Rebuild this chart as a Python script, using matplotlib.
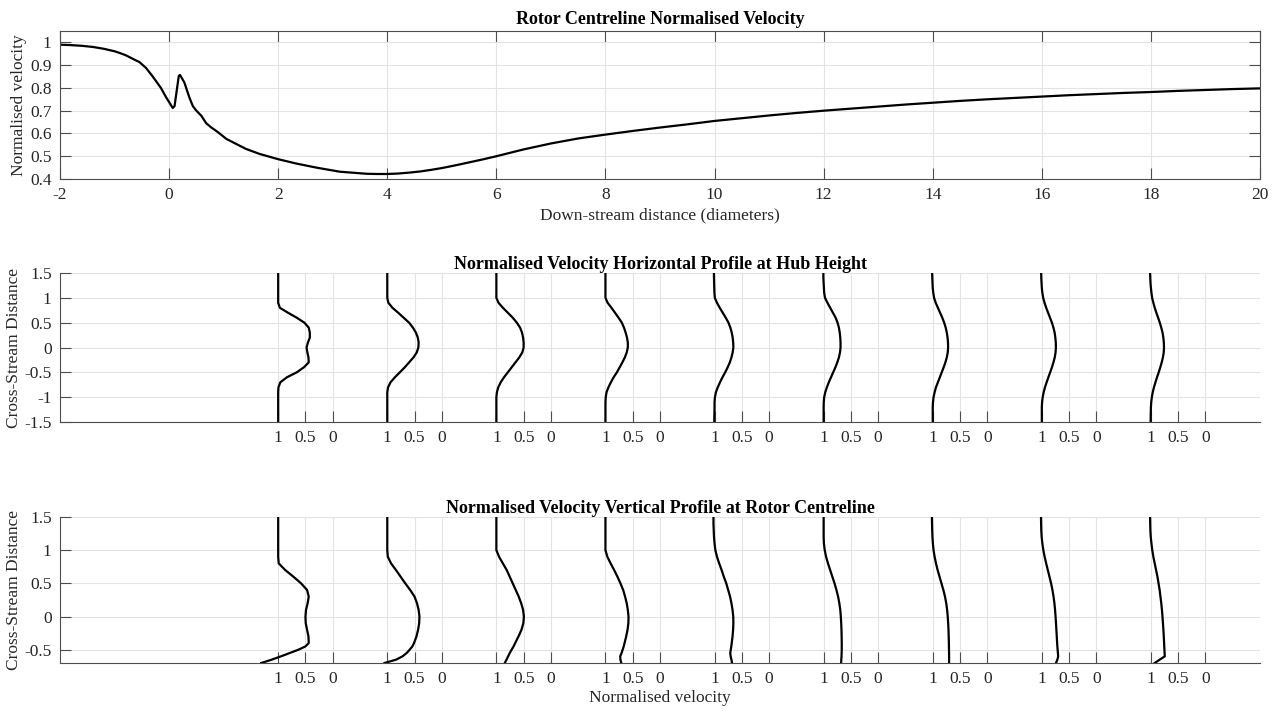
import matplotlib
matplotlib.use("Agg")
import matplotlib.pyplot as plt
import numpy as np

plt.rcParams['font.family'] = ['Liberation Serif', 'DejaVu Serif']
plt.rcParams['axes.unicode_minus'] = False

# ---------------- data ----------------
# Rotor centreline normalised velocity
cl_x = [-2.0, -1.8, -1.6, -1.4, -1.2, -1.0, -0.9, -0.8, -0.7, -0.6, -0.546, -0.42, -0.3, -0.15,
        -0.055, 0.067, 0.1, 0.178, 0.2, 0.28, 0.37, 0.436, 0.5, 0.59, 0.68, 0.77, 0.9, 1.05,
        1.23, 1.41, 1.66, 2.0, 2.33, 2.7, 3.13, 3.62, 3.8, 4.0, 4.2, 4.4, 4.6, 4.8, 5.0, 5.25,
        5.5, 5.75, 6.0, 6.25, 6.5, 6.75, 7.0, 7.5, 8.0, 8.5, 9.0, 9.5, 10.0, 10.5, 11.0, 11.5,
        12.0, 12.5, 13.0, 13.5, 14.0, 14.5, 15.0, 15.5, 16.0, 16.5, 17.0, 17.5, 18.0, 18.5,
        19.0, 19.5, 20.0]
cl_u = [0.99, 0.988, 0.985, 0.98, 0.972, 0.961, 0.953, 0.944, 0.932, 0.92, 0.914, 0.887, 0.85,
        0.80, 0.759, 0.712, 0.72, 0.853, 0.857, 0.824, 0.759, 0.72, 0.70, 0.678, 0.645, 0.627,
        0.605, 0.576, 0.554, 0.532, 0.51, 0.487, 0.468, 0.45, 0.432, 0.423, 0.422, 0.422, 0.424,
        0.428, 0.433, 0.44, 0.448, 0.46, 0.473, 0.486, 0.50, 0.515, 0.53, 0.543, 0.556, 0.578,
        0.595, 0.611, 0.626, 0.64, 0.655, 0.667, 0.679, 0.69, 0.70, 0.709, 0.718, 0.727, 0.735,
        0.743, 0.75, 0.756, 0.762, 0.768, 0.773, 0.778, 0.782, 0.787, 0.791, 0.795, 0.798]

# Profile stations (diameters downstream)
stations = [2, 4, 6, 8, 10, 12, 14, 16, 18]

# Horizontal profiles at hub height
h_y = [1.5, 1.4, 1.3, 1.2, 1.1, 1.0, 0.9, 0.8, 0.7, 0.6, 0.5, 0.4, 0.3, 0.2, 0.1, 0.0,
       -0.1, -0.2, -0.3, -0.4, -0.5, -0.6, -0.7, -0.8, -0.9, -1.0, -1.1, -1.2, -1.3, -1.4, -1.5]
h_u2 = [1.0, 1.0, 1.0, 1.0, 1.0, 1.0, 1.0, 0.97, 0.82, 0.66, 0.52, 0.44, 0.42, 0.42, 0.455, 0.48,
        0.465, 0.445, 0.44, 0.53, 0.66, 0.84, 0.96, 0.995, 1.0, 1.0, 1.0, 1.0, 1.0, 1.0, 1.0]
h_u4 = [1.0, 1.0, 1.0, 1.0, 1.0, 1.0, 0.98, 0.905, 0.80, 0.70, 0.60, 0.53, 0.475, 0.44, 0.425, 0.43,
        0.46, 0.52, 0.60, 0.68, 0.77, 0.86, 0.94, 0.985, 1.0, 1.0, 1.0, 1.0, 1.0, 1.0, 1.0]
h_u6 = [1.0, 1.0, 1.0, 1.0, 1.0, 1.0, 0.96, 0.88, 0.79, 0.70, 0.625, 0.565, 0.53, 0.51, 0.50, 0.50,
        0.525, 0.58, 0.65, 0.72, 0.79, 0.86, 0.92, 0.965, 0.99, 1.0, 1.0, 1.0, 1.0, 1.0, 1.0]
h_u8 = [1.0, 1.0, 1.0, 1.0, 1.0, 1.0, 0.96, 0.89, 0.825, 0.76, 0.70, 0.66, 0.63, 0.605, 0.59, 0.59,
        0.61, 0.645, 0.69, 0.74, 0.79, 0.85, 0.90, 0.945, 0.98, 0.995, 1.0, 1.0, 1.0, 1.0, 1.0]
h_u10 = [1.012, 1.01, 1.008, 1.005, 1.002, 0.995, 0.955, 0.905, 0.85, 0.795, 0.745, 0.71, 0.685, 0.668,
         0.658, 0.655, 0.668, 0.69, 0.72, 0.76, 0.805, 0.855, 0.90, 0.94, 0.975, 0.993, 1.0, 1.0,
         1.002, 1.004, 1.005]
h_u12 = [1.005, 1.005, 1.0, 0.995, 0.99, 0.975, 0.93, 0.88, 0.83, 0.78, 0.745, 0.72, 0.705, 0.695,
         0.69, 0.69, 0.70, 0.72, 0.75, 0.785, 0.825, 0.865, 0.905, 0.94, 0.97, 0.99, 0.998, 1.0,
         1.0, 1.0, 1.0]
h_u14 = [1.01, 1.008, 1.004, 1.0, 0.99, 0.975, 0.945, 0.905, 0.865, 0.825, 0.79, 0.762, 0.742, 0.728,
         0.72, 0.718, 0.725, 0.742, 0.768, 0.80, 0.835, 0.87, 0.905, 0.94, 0.965, 0.985, 0.995, 1.0,
         1.0, 1.0, 1.0]
h_u16 = [1.012, 1.01, 1.005, 1.0, 0.99, 0.975, 0.95, 0.92, 0.885, 0.85, 0.815, 0.787, 0.765, 0.752,
         0.744, 0.742, 0.748, 0.763, 0.787, 0.815, 0.847, 0.88, 0.912, 0.942, 0.966, 0.984, 0.995,
         1.0, 1.0, 1.0, 1.0]
h_u18 = [1.015, 1.012, 1.008, 1.0, 0.99, 0.978, 0.955, 0.93, 0.90, 0.868, 0.837, 0.81, 0.787, 0.772,
         0.763, 0.76, 0.765, 0.78, 0.802, 0.828, 0.857, 0.888, 0.917, 0.944, 0.966, 0.983, 0.994,
         1.0, 1.002, 1.004, 1.005]

# Vertical profiles at rotor centreline
v_y = [1.5, 1.4, 1.3, 1.2, 1.1, 1.0, 0.9, 0.8, 0.7, 0.6, 0.5, 0.4, 0.3, 0.2, 0.1, 0.0,
       -0.1, -0.2, -0.3, -0.4, -0.45, -0.5, -0.55, -0.6, -0.65, -0.7]
v_u2 = [1.0, 1.0, 1.0, 1.0, 1.0, 1.0, 1.0, 0.99, 0.87, 0.72, 0.58, 0.47, 0.44, 0.46, 0.49, 0.50,
        0.495, 0.47, 0.445, 0.44, 0.50, 0.63, 0.79, 0.95, 1.12, 1.31]
v_u4 = [1.0, 1.0, 1.0, 1.0, 1.0, 1.0, 0.99, 0.93, 0.84, 0.755, 0.67, 0.58, 0.50, 0.455, 0.425, 0.41,
        0.415, 0.435, 0.465, 0.51, 0.54, 0.59, 0.645, 0.72, 0.84, 1.05]
v_u6 = [1.0, 1.0, 1.0, 1.0, 1.0, 1.0, 0.95, 0.88, 0.81, 0.755, 0.70, 0.645, 0.59, 0.545, 0.51, 0.495,
        0.505, 0.54, 0.595, 0.655, 0.685, 0.72, 0.755, 0.785, 0.815, 0.845]
v_u8 = [1.0, 1.0, 1.0, 1.0, 1.0, 1.0, 0.965, 0.905, 0.84, 0.78, 0.725, 0.675, 0.64, 0.61, 0.59, 0.577,
        0.58, 0.595, 0.62, 0.65, 0.665, 0.685, 0.705, 0.73, 0.725, 0.71]
v_u10 = [1.02, 1.02, 1.015, 1.01, 1.0, 0.985, 0.955, 0.915, 0.87, 0.83, 0.785, 0.75, 0.715, 0.69,
         0.67, 0.657, 0.655, 0.66, 0.67, 0.685, 0.693, 0.703, 0.712, 0.705, 0.69, 0.68]
v_u12 = [1.0, 1.0, 1.0, 1.0, 0.995, 0.98, 0.955, 0.92, 0.88, 0.84, 0.80, 0.765, 0.735, 0.712, 0.695,
         0.685, 0.678, 0.673, 0.67, 0.668, 0.668, 0.668, 0.67, 0.672, 0.676, 0.68]
v_u14 = [1.015, 1.013, 1.01, 1.005, 0.997, 0.985, 0.965, 0.94, 0.91, 0.875, 0.84, 0.805, 0.775, 0.752,
         0.736, 0.725, 0.717, 0.711, 0.707, 0.704, 0.703, 0.702, 0.701, 0.70, 0.70, 0.70]
v_u16 = [1.015, 1.013, 1.01, 1.003, 0.99, 0.972, 0.948, 0.92, 0.89, 0.86, 0.83, 0.805, 0.785, 0.769,
         0.757, 0.748, 0.74, 0.733, 0.726, 0.719, 0.715, 0.71, 0.705, 0.70, 0.715, 0.74]
v_u18 = [1.015, 1.013, 1.01, 1.003, 0.99, 0.975, 0.955, 0.93, 0.905, 0.88, 0.86, 0.84, 0.825, 0.81,
         0.798, 0.788, 0.779, 0.771, 0.764, 0.758, 0.755, 0.752, 0.749, 0.746, 0.84, 0.93]

h_profiles = [h_u2, h_u4, h_u6, h_u8, h_u10, h_u12, h_u14, h_u16, h_u18]
v_profiles = [v_u2, v_u4, v_u6, v_u8, v_u10, v_u12, v_u14, v_u16, v_u18]

prof_tick_offsets = [0.0, 0.5, 1.0]
prof_tick_labels = ['1', '0.5', '0']

# ---------------- styling ----------------
TXT = '#262626'
SPINE = '#4d4d4d'
GRID = '#e3e3e3'
FS = 12.5
TFS = 13
LW = 1.6

fig = plt.figure(figsize=(12.79, 7.18), dpi=100)
W, H = 1279.0, 718.0


def place(l, t, r, b):
    return [l / W, 1 - b / H, (r - l) / W, (b - t) / H]


def style(ax, box):
    ax.set_axisbelow(True)
    ax.grid(True, color=GRID, linewidth=0.8)
    for s in ax.spines.values():
        s.set_color(SPINE)
        s.set_linewidth(0.8)
    if not box:
        ax.spines['top'].set_visible(False)
        ax.spines['right'].set_visible(False)
    ax.tick_params(direction='in', length=8, width=0.8, color=SPINE,
                   labelsize=FS, labelcolor=TXT, top=box, right=box, pad=6)


# Top panel
ax1 = fig.add_axes(place(60, 31, 1260, 179))
ax1.plot(cl_x, cl_u, color='black', linewidth=LW)
ax1.set_xlim(-2, 20)
ax1.set_ylim(0.4, 1.05)
ax1.set_xticks(np.arange(-2, 21, 2))
ax1.set_yticks([0.4, 0.5, 0.6, 0.7, 0.8, 0.9, 1.0])
ax1.set_yticklabels(['0.4', '0.5', '0.6', '0.7', '0.8', '0.9', '1'])
style(ax1, True)
ax1.set_title('Rotor Centreline Normalised Velocity', fontsize=TFS, fontweight='bold',
              color='black', pad=5)
ax1.set_xlabel('Down-stream distance (diameters)', fontsize=FS, color=TXT, labelpad=3)
ax1.set_ylabel('Normalised velocity', fontsize=FS, color=TXT, labelpad=2)

# Profile ticks
pt = []
pl = []
for d in stations:
    for o, lab in zip(prof_tick_offsets, prof_tick_labels):
        pt.append(d + o)
        pl.append(lab)

# Middle panel
ax2 = fig.add_axes(place(60, 273, 1260, 422))
for d, u in zip(stations, h_profiles):
    ax2.plot(d + 1 - np.array(u), h_y, color='black', linewidth=LW)
ax2.set_xlim(-2, 20)
ax2.set_ylim(-1.5, 1.5)
ax2.set_xticks(pt)
ax2.set_xticklabels(pl)
ax2.set_yticks([-1.5, -1, -0.5, 0, 0.5, 1, 1.5])
ax2.set_yticklabels(['-1.5', '-1', '-0.5', '0', '0.5', '1', '1.5'])
style(ax2, False)
ax2.set_title('Normalised Velocity Horizontal Profile at Hub Height', fontsize=TFS,
              fontweight='bold', color='black', pad=3)
ax2.set_ylabel('Cross-Stream Distance', fontsize=FS, color=TXT, labelpad=2)

# Bottom panel
ax3 = fig.add_axes(place(60, 517, 1260, 663))
for d, u in zip(stations, v_profiles):
    ax3.plot(d + 1 - np.array(u), v_y, color='black', linewidth=LW)
ax3.set_xlim(-2, 20)
ax3.set_ylim(-0.7, 1.5)
ax3.set_xticks(pt)
ax3.set_xticklabels(pl)
ax3.set_yticks([-0.5, 0, 0.5, 1, 1.5])
ax3.set_yticklabels(['-0.5', '0', '0.5', '1', '1.5'])
style(ax3, False)
ax3.set_title('Normalised Velocity Vertical Profile at Rotor Centreline', fontsize=TFS,
              fontweight='bold', color='black', pad=3)
ax3.set_ylabel('Cross-Stream Distance', fontsize=FS, color=TXT, labelpad=2)
ax3.set_xlabel('Normalised velocity', fontsize=FS, color=TXT, labelpad=2)

fig.savefig('out.png', dpi=100, facecolor='white')
